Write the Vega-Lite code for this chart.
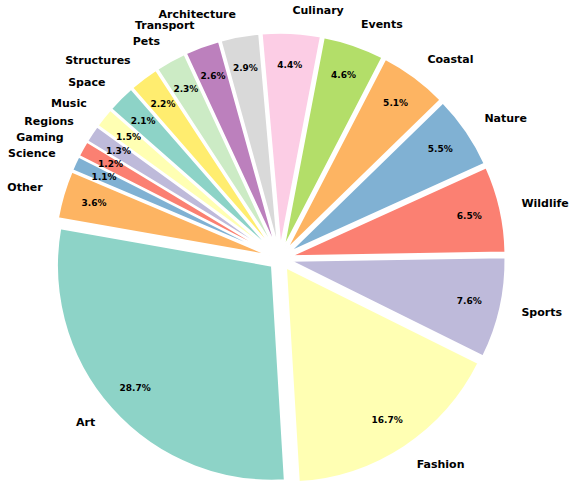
{
  "$schema": "https://vega.github.io/schema/vega-lite/v6.json",
  "width": 560,
  "height": 447,
  "autosize": {"type": "none"},
  "padding": {"left": 0, "top": 35, "right": 11, "bottom": 0},
  "background": "white",
  "config": {"view": {"stroke": null}, "font": "DejaVu Sans"},
  "data": {
    "values": [
      {"rank": 1, "category": "Art", "share": 0.287},
      {"rank": 2, "category": "Fashion", "share": 0.167},
      {"rank": 3, "category": "Sports", "share": 0.076},
      {"rank": 4, "category": "Wildlife", "share": 0.065},
      {"rank": 5, "category": "Nature", "share": 0.055},
      {"rank": 6, "category": "Coastal", "share": 0.051},
      {"rank": 7, "category": "Events", "share": 0.046},
      {"rank": 8, "category": "Culinary", "share": 0.044},
      {"rank": 9, "category": "Architecture", "share": 0.029},
      {"rank": 10, "category": "Transport", "share": 0.026},
      {"rank": 11, "category": "Pets", "share": 0.023},
      {"rank": 12, "category": "Structures", "share": 0.022},
      {"rank": 13, "category": "Space", "share": 0.021},
      {"rank": 14, "category": "Music", "share": 0.015},
      {"rank": 15, "category": "Regions", "share": 0.013},
      {"rank": 16, "category": "Gaming", "share": 0.012},
      {"rank": 17, "category": "Science", "share": 0.011},
      {"rank": 18, "category": "Other", "share": 0.036}
    ]
  },
  "encoding": {
    "theta": {"field": "share", "type": "quantitative", "stack": true, "scale": {"range": [-1.3963, 4.8869]}},
    "order": {"field": "rank", "type": "quantitative", "sort": "descending"},
    "color": {
      "field": "category",
      "type": "nominal",
      "legend": null,
      "scale": {
        "domain": ["Art", "Fashion", "Sports", "Wildlife", "Nature", "Coastal", "Events", "Culinary", "Architecture", "Transport", "Pets", "Structures", "Space", "Music", "Regions", "Gaming", "Science", "Other"],
        "range": ["#8dd3c7", "#ffffb3", "#bebada", "#fb8072", "#80b1d3", "#fdb462", "#b3de69", "#fccde5", "#d9d9d9", "#bc80bd", "#ccebc5", "#ffed6f", "#8dd3c7", "#ffffb3", "#bebada", "#fb8072", "#80b1d3", "#fdb462"]
      }
    }
  },
  "layer": [
    {
      "mark": {
        "type": "arc",
        "outerRadius": 215,
        "stroke": "white",
        "strokeWidth": 2,
        "xOffset": {"expr": "10.75*sin(scale('theta', (datum.share_start + datum.share_end)/2))"},
        "yOffset": {"expr": "-10.75*cos(scale('theta', (datum.share_start + datum.share_end)/2))"}
      }
    },
    {
      "mark": {
        "type": "text",
        "radius": 194,
        "fontSize": 9,
        "fontWeight": "bold",
        "font": "DejaVu Sans",
        "baseline": "middle",
        "align": "center"
      },
      "encoding": {
        "text": {"field": "share", "type": "quantitative", "format": ".1%"},
        "color": {"value": "black"}
      }
    },
    {
      "mark": {
        "type": "text",
        "radius": 247.5,
        "fontSize": 11,
        "fontWeight": "bold",
        "font": "DejaVu Sans",
        "baseline": "middle",
        "align": {"expr": "sin(scale('theta', (datum.share_start + datum.share_end)/2)) > 0 ? 'left' : 'right'"}
      },
      "encoding": {
        "text": {"field": "category", "type": "nominal"},
        "color": {"value": "black"}
      }
    }
  ]
}
